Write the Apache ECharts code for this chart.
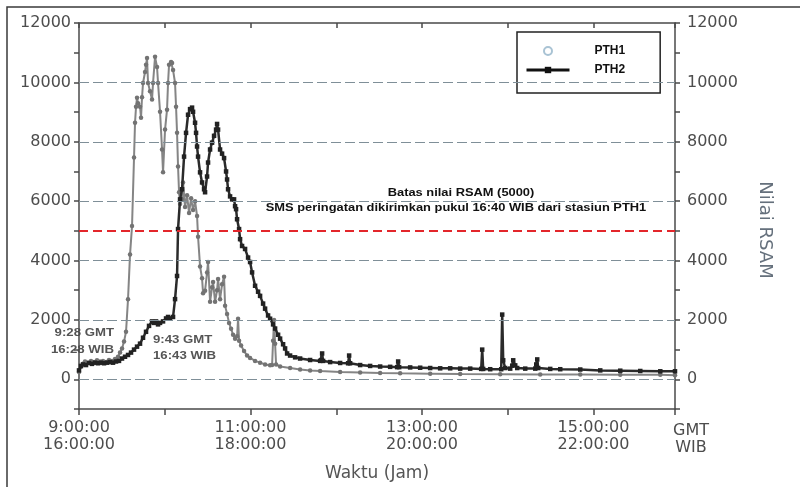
<!DOCTYPE html>
<html><head><meta charset="utf-8">
<script src="https://cdn.jsdelivr.net/npm/echarts@6/dist/echarts.min.js"></script>
<style>html,body{margin:0;padding:0;background:#fff}#c{width:800px;height:487px}</style>
</head><body><div id="c"></div>
<script>
// time = minutes after 9:00 GMT (16:00 WIB)
const pth1Time = [0,1.4,2.8,4.2,6.3,8.4,10.5,12.6,14.7,16.8,19,21,23.1,25.2,27.3,28.7,30.1,31.5,32.9,34.3,35.7,37.1,38.5,39.2,39.9,40.6,41.3,42.7,43.4,44.1,44.8,46.2,46.9,47.6,48.3,49.7,51.1,51.8,53.2,54.6,55.3,56.7,58.1,58.8,60.2,61.6,62.3,63,64.4,65.1,65.8,67.2,67.9,68.6,69.3,70,70.7,72.1,72.8,74.2,75.6,77,78.4,79.8,81.2,82.6,83.3,84.7,86.1,86.8,88.2,89.6,90.3,91.7,93.1,93.8,95.2,96.6,97.3,98.7,100.1,101.5,102.2,103.6,105,106.4,107.8,109.2,110.6,111.3,112,113.4,115.5,117.6,119.7,123.2,126.7,130.2,133.7,135.1,135.8,136.5,137.2,137.9,140.7,147.7,154.7,161.7,168.7,182.7,196.7,210.7,224.7,245.7,266.7,294.7,322.7,350.7,378.7,406.7,417];
const pth1Value = [250,420,520,600,560,620,580,640,600,620,580,650,620,680,760,900,1040,1270,1600,2700,4200,5160,7470,8640,9180,9480,9300,9180,8810,9500,9980,10350,10590,10820,9980,9700,9420,9980,10860,10520,9980,9010,7740,6970,8410,9080,9980,10590,10690,10650,10420,9980,9180,8300,7170,6300,5900,6060,6630,5800,6200,5600,6100,5700,6000,5500,4800,3800,3400,2900,2980,3600,3950,2610,3100,3280,2610,3000,3380,2700,3200,3450,2480,2200,1900,1700,1500,1370,1450,2040,1300,1140,950,800,720,620,560,500,470,480,1300,2000,1200,500,430,380,330,300,280,250,230,210,200,190,180,170,160,160,150,150,140];

const pth2Time = [0,1.4,2.8,4.9,7,9.1,11.2,13.3,15.4,17.5,19.6,21.7,23.8,25.9,28,30.1,32.2,34.3,36.4,38.5,40.6,42.7,44.8,46.9,49,51.1,52.5,53.9,55.3,56.7,58.8,60.9,62.3,63.7,65.8,67.2,68.6,69.3,70.7,72.1,73.5,74.9,76.3,77.7,79.1,79.8,81.2,81.9,82.6,83.3,84.7,86.1,87.5,88.2,89.6,90.3,91.7,93.1,94.5,95.9,96.6,97.3,98.7,100.1,101.5,102.9,103.6,104.3,105.7,107.1,108.5,109.2,109.9,110.6,112,112.7,114.1,116.2,118.3,119.7,121.1,123.2,125.3,126.7,128.8,130.2,132.3,133.7,135.8,137.2,139.3,140.7,142.8,144.2,145.6,147.7,151.2,154.7,161.7,168.7,169.4,170.1,170.8,175.7,182.7,188.3,189,189.7,196.7,203.7,210.7,217.7,222.6,223.3,224,231.7,238.7,245.7,252.7,259.7,266.7,273.7,281.4,282.1,282.8,287.7,295.4,296.1,296.8,298.2,301.7,303.1,303.8,305.2,306.6,312.2,319.2,319.9,320.6,321.3,329.7,336.7,350.7,364.7,378.7,392.7,406.7,417];
const pth2Value = [300,450,500,480,550,520,560,540,560,540,560,580,560,600,620,700,760,820,900,1000,1100,1200,1400,1600,1800,1950,1900,1950,1850,1900,1950,2050,2100,2050,2100,2700,3480,5060,6060,6400,7500,8300,8910,9100,9150,9010,8640,8300,7840,7500,6970,6630,6400,6300,6830,7300,7740,7970,8200,8410,8600,8410,7740,7600,7450,7000,6730,6400,6160,6060,6060,5830,5730,5390,5060,4720,4490,4390,4100,3950,3600,3150,2950,2810,2550,2380,2150,2040,1850,1710,1500,1370,1180,1040,870,800,740,700,650,620,640,870,620,580,550,540,800,540,480,450,430,420,410,600,410,400,390,380,370,370,360,360,350,1000,350,340,340,2180,640,380,360,460,640,470,380,360,360,500,670,380,350,340,330,300,290,280,270,270];

const xTickMinutes = [0,120,240,360];
const xTickGMT = ['9:00:00','11:00:00','13:00:00','15:00:00'];
const xTickWIB = ['16:00:00','18:00:00','20:00:00','22:00:00'];
const yTickLabels = [0,2000,4000,6000,8000,10000,12000];
const gridLineValues = [0,2000,4000,6000,8000,10000];
const thresholdValue = 5000;
const seriesNames = ['PTH1','PTH2'];

const zip = (t, v) => t.map((x, i) => [x, v[i]]);
const axisCol = '#4a4a4a';
const tickFont = 'DejaVu Sans, sans-serif';
const boldFont = 'Liberation Sans, Arial, sans-serif';

const xBase = {
  type:'value', min:0, max:417, interval:60,
  axisLine:{show:true, onZero:false, lineStyle:{color:axisCol, width:1.5}},
  splitLine:{show:false}
};
const yBase = {
  type:'value', min:-1000, max:12000, interval:1000,
  axisLine:{show:true, onZero:false, lineStyle:{color:axisCol, width:1.5}},
  axisTick:{show:true, length:5, lineStyle:{color:axisCol, width:1.5}},
  splitLine:{show:false}
};
const yLabel = (margin) => ({
  margin, color:'#4d4d4d', fontFamily:tickFont, fontSize:16,
  formatter: v => yTickLabels.includes(v) ? String(v) : ''
});

const chart = echarts.init(document.getElementById('c'));
chart.setOption({
  animation:false,
  backgroundColor:'#fff',
  grid:{left:79, right:125, top:23, bottom:76},
  xAxis:[
    Object.assign({}, xBase, {
      position:'bottom',
      axisTick:{show:true, length:6, lineStyle:{color:axisCol, width:1.5}},
      axisLabel:{margin:10, color:'#4d4d4d', fontFamily:tickFont, fontSize:16, lineHeight:17,
        formatter: v => { const i = xTickMinutes.indexOf(v); return i < 0 ? '' : xTickGMT[i] + '\n' + xTickWIB[i]; }},
      name:'Waktu (Jam)', nameLocation:'middle', nameGap:56,
      nameTextStyle:{fontFamily:tickFont, fontSize:17, color:'#555'}
    }),
    Object.assign({}, xBase, {
      position:'top',
      axisTick:{show:true, inside:true, length:5, lineStyle:{color:axisCol, width:1.5}},
      axisLabel:{show:false}
    })
  ],
  yAxis:[
    Object.assign({}, yBase, {position:'left', axisLabel:yLabel(8)}),
    Object.assign({}, yBase, {position:'right', axisLabel:yLabel(12)})
  ],
  legend:{
    data:[
      {name:seriesNames[0], icon:'emptyCircle', itemStyle:{color:'#a9c3d4'}},
      {name:seriesNames[1], itemStyle:{color:'#111'}, lineStyle:{width:3, color:'#111'}}
    ],
    orient:'vertical', left:517, top:32, itemWidth:43, itemHeight:8, itemGap:7,
    padding:[13,35,17,8], borderColor:'#222', borderWidth:1.5, borderRadius:0, backgroundColor:'#fff',
    selectedMode:false,
    textStyle:{fontFamily:boldFont, fontWeight:'bold', fontSize:12, color:'#111', padding:[0,0,0,20]}
  },
  series:[
    {
      name:'grid', type:'line', data:[], silent:true, z:1,
      markLine:{silent:true, symbol:'none', label:{show:false},
        lineStyle:{color:'#7f8f98', width:1, type:[10,4]},
        data: gridLineValues.map(v => ({yAxis:v}))}
    },
    {
      name:seriesNames[0], type:'line', data:zip(pth1Time, pth1Value), z:2,
      symbol:'circle', symbolSize:4.5, showAllSymbol:true,
      lineStyle:{color:'#858585', width:2},
      itemStyle:{color:'#737373'}
    },
    {
      name:seriesNames[1], type:'line', data:zip(pth2Time, pth2Value), z:3,
      symbol:'rect', symbolSize:4.5, showAllSymbol:true,
      lineStyle:{color:'#2b2b2b', width:2.5},
      itemStyle:{color:'#222'}
    },
    {
      name:'threshold', type:'line', data:[], silent:true, z:5,
      markLine:{silent:true, symbol:'none', label:{show:false},
        lineStyle:{color:'#e3262b', width:2, type:[9,5]},
        data:[{yAxis:thresholdValue}]}
    }
  ],
  graphic:[
    {type:'rect', silent:true, z:-10, shape:{x:7, y:7, width:800, height:500},
      style:{fill:'none', stroke:'#3a3a3a', lineWidth:1.5}},
    {type:'text', x:461, y:193, scaleX:1.17, style:{text:'Batas nilai RSAM (5000)', fontFamily:boldFont, fontWeight:'bold', fontSize:11, fill:'#111', align:'center', verticalAlign:'middle'}},
    {type:'text', x:456, y:208, scaleX:1.17, style:{text:'SMS peringatan dikirimkan pukul 16:40 WIB dari stasiun PTH1', fontFamily:boldFont, fontWeight:'bold', fontSize:11, fill:'#111', align:'center', verticalAlign:'middle'}},
    {type:'text', x:114, y:341, scaleX:1.2, style:{text:'9:28 GMT\n16:28 WIB', fontFamily:boldFont, fontWeight:'bold', fontSize:11, lineHeight:17, fill:'#555', align:'right', verticalAlign:'middle'}},
    {type:'text', x:153, y:348, scaleX:1.2, style:{text:'9:43 GMT\n16:43 WIB', fontFamily:boldFont, fontWeight:'bold', fontSize:11, lineHeight:16, fill:'#555', align:'left', verticalAlign:'middle'}},
    {type:'text', x:691, y:439, style:{text:'GMT\nWIB', fontFamily:tickFont, fontSize:16, lineHeight:17, fill:'#4d4d4d', align:'center', verticalAlign:'middle'}},
    {type:'text', x:765, y:230, rotation:-Math.PI/2, style:{text:'Nilai RSAM', fontFamily:tickFont, fontSize:18, fill:'#65707c', align:'center', verticalAlign:'middle'}}
  ]
});
</script></body></html>
